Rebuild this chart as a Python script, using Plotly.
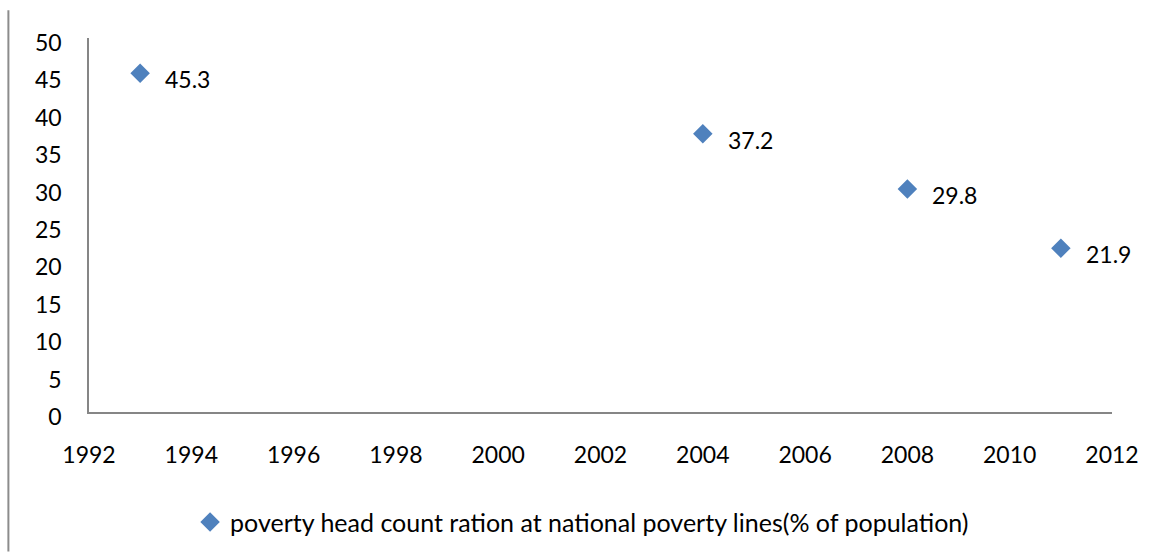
import plotly.graph_objects as go

years = [1993, 2004, 2008, 2011]
values = [45.3, 37.2, 29.8, 21.9]
series_name = "poverty head count ration at national poverty lines(% of population)"
x_ticks = list(range(1992, 2013, 2))
y_ticks = list(range(0, 51, 5))

FONT = "Lato"
FS = 23
AX = "#868686"
BLUE = "#4F81BD"

fig = go.Figure()
fig.add_trace(go.Scatter(
    x=years, y=values, mode="markers", name=series_name,
    marker=dict(symbol="diamond", size=15, color=BLUE),
    cliponaxis=False,
))

for xv, yv in zip(years, values):
    fig.add_annotation(x=xv, y=yv, text=f"{yv}", showarrow=False,
                       xanchor="left", yanchor="middle", xshift=23, yshift=-6,
                       font=dict(family=FONT, size=FS, color="black"))

fig.add_shape(type="line", xref="paper", yref="paper",
              x0=-81/1028, x1=-81/1028, y0=-141/378, y1=1+28/378,
              line=dict(color="#8c8c8c", width=2))

fig.update_layout(
    width=1151, height=557,
    margin=dict(l=89, r=34, t=38, b=141),
    plot_bgcolor="white", paper_bgcolor="white",
    font=dict(family=FONT, size=FS, color="black"),
    showlegend=True,
    legend=dict(orientation="h", x=0.482, xanchor="center", y=-0.233, yanchor="top",
                font=dict(family=FONT, size=25), itemwidth=30),
    xaxis=dict(range=[1992, 2012], tickvals=x_ticks, showgrid=False, zeroline=False,
               showline=True, linecolor=AX, linewidth=1.5, ticks="",
               ticklabelstandoff=22),
    yaxis=dict(range=[0, 50], tickvals=y_ticks, showgrid=False, zeroline=False,
               showline=True, linecolor=AX, linewidth=1.5, ticks="",
               ticklabelstandoff=21, ticklabelshift=5),
)

fig.write_html("out.html")
